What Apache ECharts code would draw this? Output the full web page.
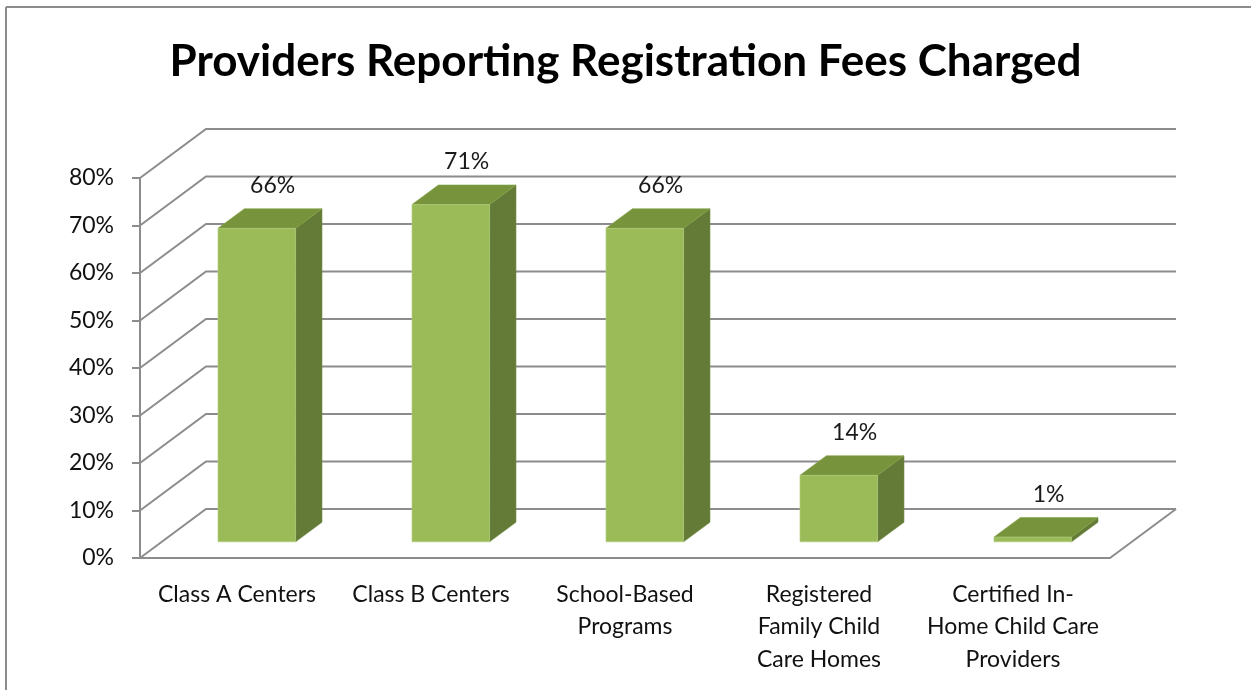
<!DOCTYPE html>
<html>
<head>
<meta charset="utf-8">
<title>Providers Reporting Registration Fees Charged</title>
<script src="https://cdn.jsdelivr.net/npm/echarts@6.0.0/dist/echarts.min.js"></script>
<style>
  html, body { margin: 0; padding: 0; background: #fff; }
  #chart { width: 1251px; height: 690px; }
</style>
</head>
<body>
<div id="chart"></div>
<script>
// chart data
const categories = [
  'Class A Centers',
  'Class B Centers',
  'School-Based\nPrograms',
  'Registered\nFamily Child\nCare Homes',
  'Certified In-\nHome Child Care\nProviders'
]
const feeShare = [66, 71, 66, 14, 1]
const yTicks = [0, 10, 20, 30, 40, 50, 60, 70, 80]

// fake 3d look: oblique depth vector of the floor/walls, in px
const DEPTH_X = 66
const DEPTH_Y = -49
const BAR_FRONT = 0.33
const BAR_BACK = 0.73
const BAR_WIDTH = 0.4

const GRID_COLOR = '#8c8c8c'
const FONT = 'Lato, "Open Sans", sans-serif'
const TEXT_SIZE = 23

const chart = echarts.init(document.getElementById('chart'))

function renderWalls(params, api) {
  const cs = params.coordSys
  const v = api.value(1)
  const y = api.coord([0, v])[1]
  const style = { stroke: GRID_COLOR, lineWidth: 2, fill: null }
  const children = [{
    type: 'polyline',
    shape: { points: [[cs.x, y], [cs.x + DEPTH_X, y + DEPTH_Y], [cs.x + cs.width + DEPTH_X, y + DEPTH_Y]] },
    style
  }]
  if (v === 0) {
    children.push({
      type: 'line',
      shape: { x1: cs.x + cs.width, y1: y, x2: cs.x + cs.width + DEPTH_X, y2: y + DEPTH_Y },
      style
    })
  }
  return { type: 'group', children }
}

function renderBar(params, api) {
  const cat = api.value(0)
  const v = api.value(1)
  const base = api.coord([cat, 0])
  const top = api.coord([cat, v])
  const bw = api.size([1, 0])[0] * BAR_WIDTH
  const fx = BAR_FRONT * DEPTH_X - 2
  const fy = BAR_FRONT * DEPTH_Y
  const sdx = (BAR_BACK - BAR_FRONT) * DEPTH_X
  const sdy = (BAR_BACK - BAR_FRONT) * DEPTH_Y
  const xl = base[0] - bw / 2 + fx
  const xr = base[0] + bw / 2 + fx
  const yb = base[1] + fy
  const yt = top[1] + fy
  return {
    type: 'group',
    children: [
      {
        type: 'polygon',
        shape: { points: [[xr, yt], [xr + sdx, yt + sdy], [xr + sdx, yb + sdy], [xr, yb]] },
        style: { fill: '#637b37', stroke: '#6f8a3f', lineWidth: 0.6 }
      },
      {
        type: 'polygon',
        shape: { points: [[xl, yt], [xl + sdx, yt + sdy], [xr + sdx, yt + sdy], [xr, yt]] },
        style: { fill: '#77933c', stroke: '#86a448', lineWidth: 0.6 }
      },
      {
        type: 'rect',
        shape: { x: xl, y: yt, width: xr - xl, height: yb - yt },
        style: { fill: '#9bbb59', stroke: '#b4cf80', lineWidth: 0.6 }
      },
      {
        type: 'text',
        x: (xl + xr) / 2 + sdx * 0.6,
        y: yt + sdy - 23,
        style: {
          text: v + '%',
          fill: '#1a1a1a',
          font: TEXT_SIZE + 'px ' + FONT,
          align: 'center',
          verticalAlign: 'middle'
        }
      }
    ]
  }
}

chart.setOption({
  animation: false,
  backgroundColor: '#fff',
  title: {
    text: 'Providers Reporting Registration Fees Charged',
    left: 'center',
    top: 35,
    textStyle: { fontFamily: FONT, fontSize: 44, fontWeight: 'bold', color: '#000' }
  },
  graphic: [
    { type: 'line', shape: { x1: 6, y1: 7, x2: 1251, y2: 7 }, style: { stroke: GRID_COLOR, lineWidth: 2 } },
    { type: 'line', shape: { x1: 6, y1: 7, x2: 6, y2: 690 }, style: { stroke: GRID_COLOR, lineWidth: 2 } }
  ],
  grid: { left: 140, right: 141, top: 178, bottom: 132 },
  xAxis: {
    type: 'category',
    data: categories,
    axisLine: { lineStyle: { color: GRID_COLOR, width: 2 } },
    axisTick: { length: 8, lineStyle: { color: GRID_COLOR, width: 2 } },
    axisLabel: { interval: 0, margin: 20, fontFamily: FONT, fontSize: TEXT_SIZE, lineHeight: 32.5, color: '#111' }
  },
  yAxis: {
    type: 'value',
    min: 0,
    max: 80,
    interval: 10,
    splitLine: { show: false },
    axisLine: { show: true, lineStyle: { color: GRID_COLOR, width: 2 } },
    axisTick: { show: true, length: 8, lineStyle: { color: GRID_COLOR, width: 2 } },
    axisLabel: { formatter: '{value}%', margin: 26, fontFamily: FONT, fontSize: TEXT_SIZE, color: '#111' }
  },
  series: [
    {
      type: 'custom',
      name: 'walls',
      z: 1,
      silent: true,
      renderItem: renderWalls,
      data: yTicks.map(t => [0, t])
    },
    {
      type: 'custom',
      name: 'bars',
      z: 2,
      renderItem: renderBar,
      data: feeShare.map((v, i) => [i, v])
    }
  ]
})
</script>
</body>
</html>
